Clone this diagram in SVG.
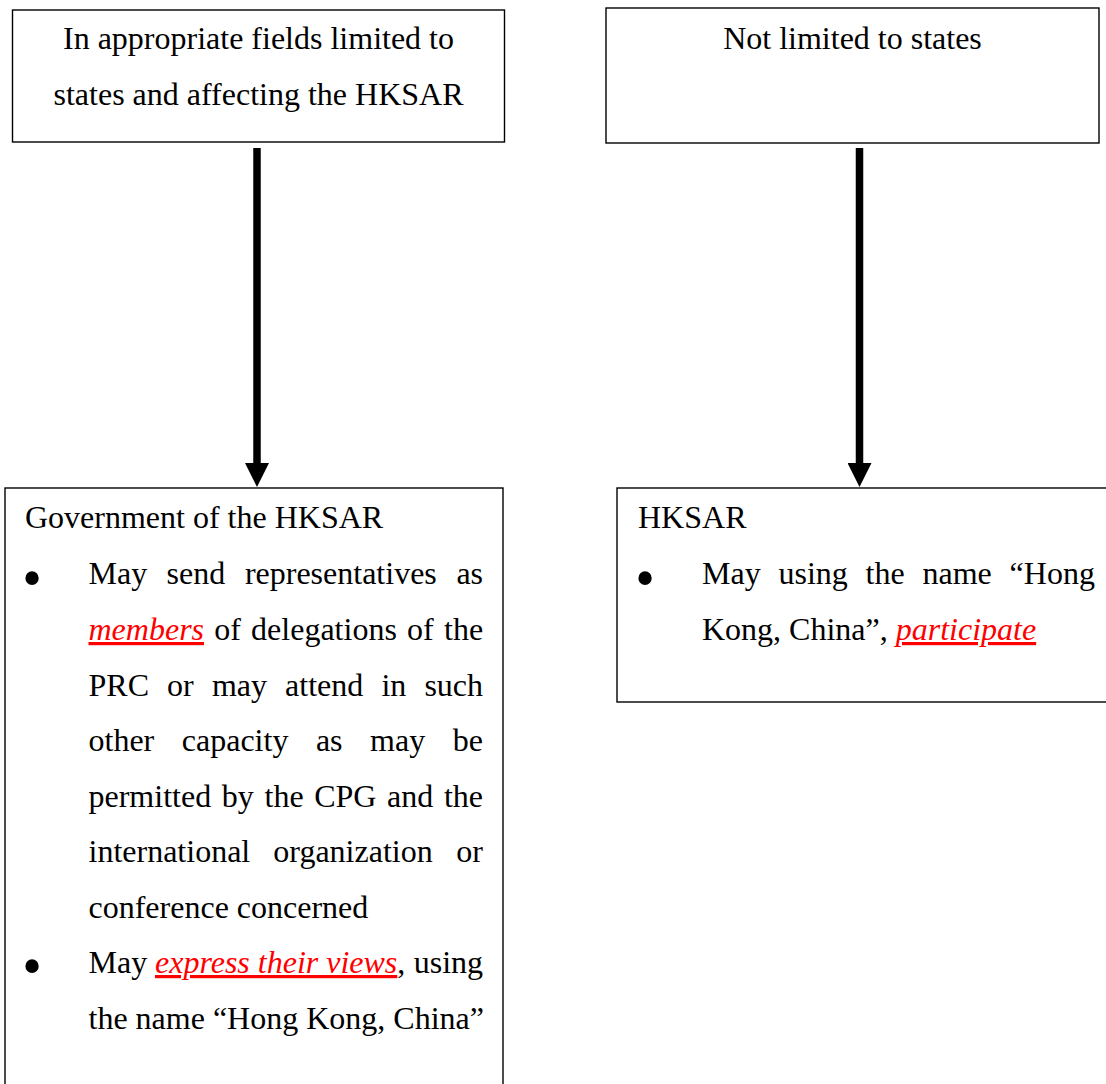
<svg xmlns="http://www.w3.org/2000/svg" width="1106" height="1084" viewBox="0 0 1106 1084">
<style>
.box{fill:#fff;stroke:#000;stroke-width:1.4}
.t{font-family:"Liberation Serif","Times New Roman",serif;font-size:32px;fill:#000}
.r{fill:#ff0000;font-style:italic;text-decoration:underline}
.b{font-family:"Liberation Serif","Times New Roman",serif;font-size:56px;fill:#000;text-anchor:middle}
.c{text-anchor:middle}
.conn{stroke:#000;stroke-width:7.5;fill:none}
</style>
<defs>
<marker id="ah" markerUnits="userSpaceOnUse" markerWidth="24" markerHeight="24" refX="7" refY="12" orient="auto" viewBox="0 0 24 24">
<path d="M0,0 L24,12 L0,24 z" fill="#000"/>
</marker>
</defs>
<rect width="1106" height="1084" fill="#fff"/>
<g id="connectors">
<line class="conn" x1="257" y1="148" x2="257" y2="470" marker-end="url(#ah)"/>
<line class="conn" x1="859.5" y1="148" x2="859.5" y2="470" marker-end="url(#ah)"/>
</g>
<g id="node-states">
<rect class="box" x="12.5" y="10" width="492" height="132"/>
<text class="t c" x="258.5" y="48.5">In appropriate fields limited to</text>
<text class="t c" x="258.5" y="104.5">states and affecting the HKSAR</text>
</g>
<g id="node-not-limited">
<rect class="box" x="606" y="8" width="493" height="135"/>
<text class="t c" x="852.5" y="48.5">Not limited to states</text>
</g>
<g id="node-government">
<rect class="box" x="5" y="488" width="498" height="700"/>
<text class="t" x="25" y="528">Government of the HKSAR</text>
<text class="b" x="32" y="596.5">•</text>
<text class="t" y="584"><tspan x="88.5">May</tspan><tspan x="166.6">send</tspan><tspan x="244.9">representatives</tspan><tspan x="456.4">as</tspan></text>
<text class="t" y="640"><tspan x="88.5" class="r">members</tspan><tspan x="214.2">of</tspan><tspan x="251.1">delegations</tspan><tspan x="407.1">of</tspan><tspan x="444">the</tspan></text>
<text class="t" y="695.5"><tspan x="88.5">PRC</tspan><tspan x="167.1">or</tspan><tspan x="211.9">may</tspan><tspan x="285.1">attend</tspan><tspan x="381.4">in</tspan><tspan x="424.4">such</tspan></text>
<text class="t" y="751"><tspan x="88.5">other</tspan><tspan x="181.8">capacity</tspan><tspan x="315.9">as</tspan><tspan x="370.1">may</tspan><tspan x="452.7">be</tspan></text>
<text class="t" y="806.5"><tspan x="88.5">permitted</tspan><tspan x="221.8">by</tspan><tspan x="264.5">the</tspan><tspan x="314.2">CPG</tspan><tspan x="387">and</tspan><tspan x="443.9">the</tspan></text>
<text class="t" y="862"><tspan x="88.5">international</tspan><tspan x="273.3">organization</tspan><tspan x="456.3">or</tspan></text>
<text class="t" x="88.5" y="917.5">conference concerned</text>
<text class="b" x="32" y="984.5">•</text>
<text class="t" y="973"><tspan x="88.5">May</tspan><tspan x="155" class="r">express their views</tspan><tspan>, </tspan><tspan x="413.7">using</tspan></text>
<text class="t" x="88.5" y="1028.5">the name “Hong Kong, China”</text>
</g>
<g id="node-hksar">
<rect class="box" x="617" y="488" width="600" height="214"/>
<text class="t" x="638" y="528">HKSAR</text>
<text class="b" x="645" y="596.5">•</text>
<text class="t" y="584"><tspan x="702">May</tspan><tspan x="778.5">using</tspan><tspan x="865.6">the</tspan><tspan x="922.5">name</tspan><tspan x="1009.6">“Hong</tspan></text>
<text class="t" x="702" y="640">Kong, China”, <tspan class="r">participate</tspan></text>
</g>
</svg>
